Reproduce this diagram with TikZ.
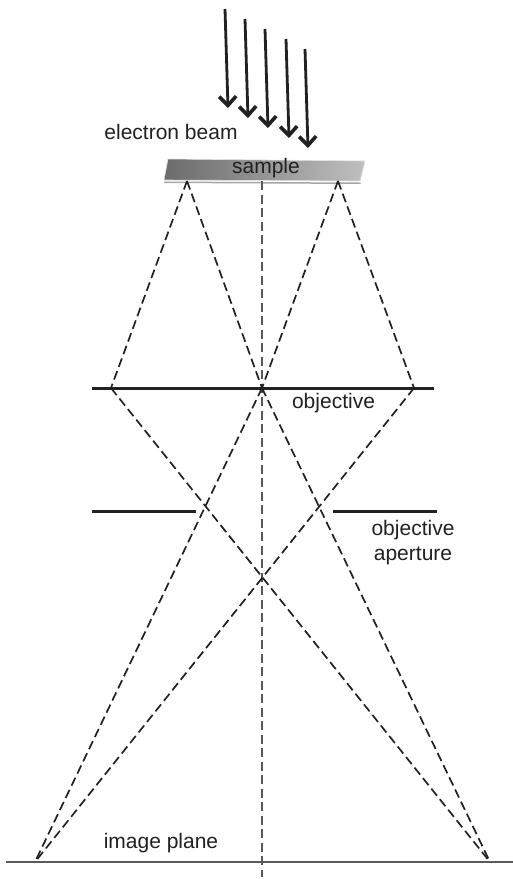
\documentclass[tikz,border=0pt]{standalone}
\usepackage{fontspec}
\setmainfont{Liberation Sans}
\usetikzlibrary{arrows.meta}
\definecolor{ink}{gray}{0.13}
\tikzset{
  ray/.style={draw=ink,line width=1.7pt,dash pattern=on 9pt off 4.5pt},
  axisray/.style={draw=black!65,line width=1.8pt,dash pattern=on 9pt off 4.5pt},
  barline/.style={draw=ink,line width=3pt},
  planeline/.style={draw=black!65,line width=2pt},
  beam/.style={draw=ink,line width=2.8pt,-{Straight Barb[length=9pt,width=17pt,line width=3.6pt]}},
  lbl/.style={font=\fontsize{21pt}{24pt}\selectfont,text=ink,inner sep=0pt,align=center}
}
\begin{document}
\begin{tikzpicture}[x=1pt,y=-1pt]
\useasboundingbox (0,0) rectangle (513,879);
% sample plate
\fill[black!35] (164,181.5) -- (360,182.5) -- (361,184) -- (164,183) -- cycle;
\shade[left color=black!58,right color=black!25,draw=black!12,line width=0.6pt]
  (168,159) -- (365,161) -- (360,181) -- (164,180) -- cycle;
% coordinates
\coordinate (sl) at (187,181);
\coordinate (sc) at (262,181);
\coordinate (sr) at (338,181);
\coordinate (ol) at (111,388);
\coordinate (oc) at (262,388);
\coordinate (or) at (414,388);
\coordinate (il) at (35,862);
\coordinate (ir) at (490,862);
\coordinate (axisend) at (262,877);
\coordinate (oa) at (92,388);
\coordinate (ob) at (434,388);
\coordinate (ala) at (92,511);
\coordinate (alb) at (196,511);
\coordinate (ara) at (333,511);
\coordinate (arb) at (437,511);
\coordinate (pa) at (6,862);
\coordinate (pb) at (513,862);
% solid bars
\draw[barline] (oa) -- (ob);
\draw[barline] (ala) -- (alb);
\draw[barline] (ara) -- (arb);
\draw[planeline] (pa) -- (pb);
% rays
\draw[axisray] (sc) -- (axisend);
\draw[ray] (sl) -- (ol);
\draw[ray] (ol) -- (ir);
\draw[ray] (sr) -- (or);
\draw[ray] (or) -- (il);
\draw[ray] (sl) -- (oc);
\draw[ray] (oc) -- (ir);
\draw[ray] (sr) -- (oc);
\draw[ray] (oc) -- (il);
% beam arrows
\foreach \n/\x/\y in {1/225/9,2/245/19,3/265/29,4/286/39,5/305/49}{
  \coordinate (b\n s) at (\x,\y);
  \coordinate (b\n e) at (\x+3,\y+99);
  \draw[beam] (b\n s) -- (b\n e);
}
% labels
\node[lbl] (ebeam) at (171,132) {electron beam};
\node[lbl] (samplelbl) at (266,168.5) {sample};
\node[lbl] (objlbl) at (333.5,403) {objective};
\node[lbl] (aplbl) at (413,542.5) {objective\\[1pt]aperture};
\node[lbl] (imglbl) at (161,843) {image plane};
\end{tikzpicture}
\end{document}
